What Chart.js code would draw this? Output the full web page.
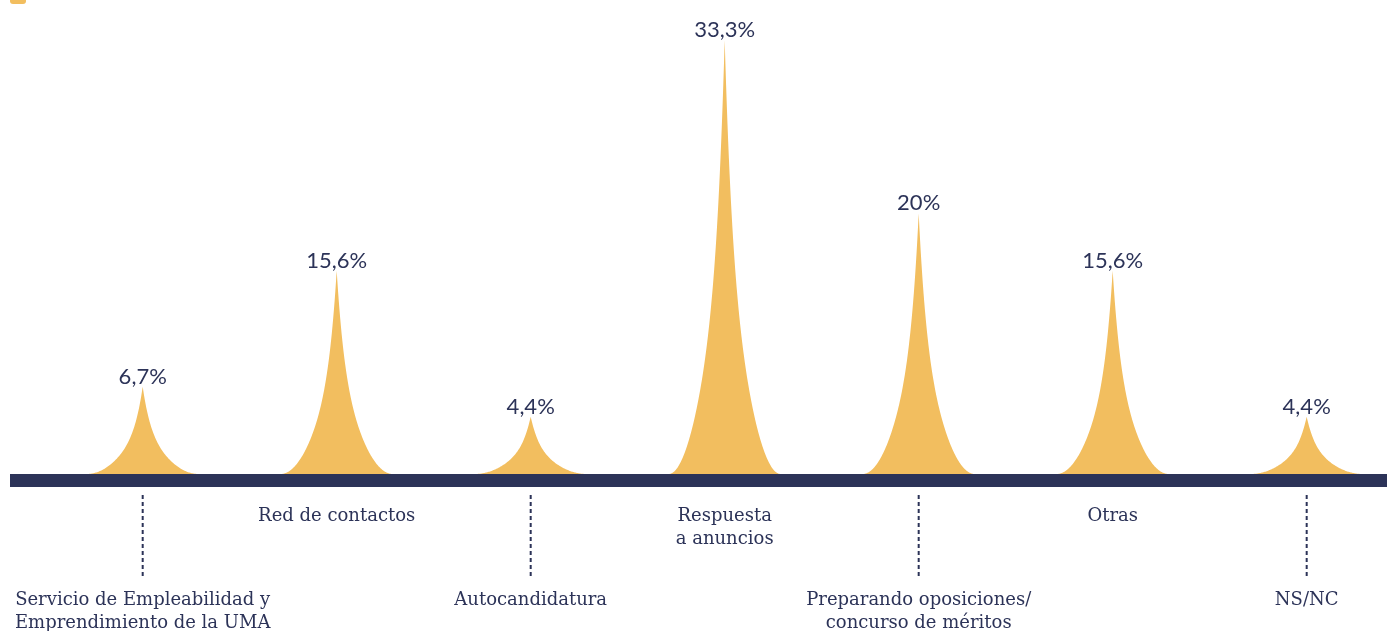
<!DOCTYPE html>
<html lang="es">
<head>
<meta charset="UTF-8">
<title>Vía de acceso al empleo</title>
<script src="https://cdn.jsdelivr.net/npm/chart.js@4.4.0/dist/chart.umd.min.js"></script>
<style>
  html, body { margin: 0; padding: 0; background: #fff; }
  .chart-box { position: relative; width: 1387px; height: 631px; }
</style>
</head>
<body>
<div class="chart-box"><canvas id="spikeChart" width="1387" height="631"></canvas></div>
<script>
// data
const categories = [
  ['Servicio de Empleabilidad y', 'Emprendimiento de la UMA'],
  ['Red de contactos'],
  ['Autocandidatura'],
  ['Respuesta', 'a anuncios'],
  ['Preparando oposiciones/', 'concurso de méritos'],
  ['Otras'],
  ['NS/NC']
];
const percentages = [6.7, 15.6, 4.4, 33.3, 20, 15.6, 4.4];

const NAVY = '#2c3358';
const GOLD = '#f2be5f';

// height of the spike at distance d from its tip (0 = tip, 1 = foot)
function spikeProfile(d) {
  const u = 1 - d;
  return 0.6 * u * u + 0.4 * Math.pow(u, 8);
}

function formatPct(v) {
  return String(v).replace('.', ',') + '%';
}

const spikePlugin = {
  id: 'spikes',
  afterDatasetsDraw(chart) {
    const ctx = chart.ctx;
    const area = chart.chartArea;
    const meta = chart.getDatasetMeta(0);
    const xScale = chart.scales.x;
    const zero = chart.scales.y.getPixelForValue(0);
    const steps = 80;

    ctx.save();

    // little legend square of the (cut off) title
    ctx.fillStyle = GOLD;
    ctx.beginPath();
    ctx.roundRect(10, -12, 16, 16, 3);
    ctx.fill();

    // spikes
    meta.data.forEach((bar) => {
      const { x, y, base, width } = bar.getProps(['x', 'y', 'base', 'width'], true);
      const hw = width / 2;
      const h = base - y;
      ctx.beginPath();
      ctx.moveTo(x - hw, base);
      for (let s = 1; s <= steps; s++) {
        const d = 1 - s / steps;
        ctx.lineTo(x - hw * d, base - h * spikeProfile(d));
      }
      for (let s = 1; s <= steps; s++) {
        const d = s / steps;
        ctx.lineTo(x + hw * d, base - h * spikeProfile(d));
      }
      ctx.closePath();
      ctx.fillStyle = GOLD;
      ctx.fill();
    });

    // baseline bar
    ctx.fillStyle = NAVY;
    ctx.fillRect(area.left, zero, area.right - area.left, 13);

    // value labels
    ctx.font = '22px Lato, "Open Sans", sans-serif';
    ctx.textAlign = 'center';
    ctx.textBaseline = 'alphabetic';
    meta.data.forEach((bar, i) => {
      ctx.fillText(formatPct(percentages[i]), bar.x, bar.y - 3);
    });

    // category labels, alternating above/below with dotted leaders
    ctx.font = '18px "DejaVu Serif", serif';
    categories.forEach((lines, i) => {
      const cx = xScale.getPixelForValue(i);
      let first;
      if (i % 2 === 1) {
        first = zero + 47;
      } else {
        first = zero + 131;
        ctx.strokeStyle = NAVY;
        ctx.lineWidth = 2;
        ctx.setLineDash([4, 3]);
        ctx.beginPath();
        ctx.moveTo(cx, zero + 21);
        ctx.lineTo(cx, zero + 105);
        ctx.stroke();
        ctx.setLineDash([]);
      }
      lines.forEach((line, k) => {
        ctx.fillText(line, cx, first + k * 23);
      });
    });

    ctx.restore();
  }
};

new Chart(document.getElementById('spikeChart'), {
  type: 'bar',
  data: {
    datasets: [{
      data: percentages.map((v, i) => ({ x: i, y: v })),
      backgroundColor: 'rgba(0,0,0,0)',
      barThickness: 112
    }]
  },
  options: {
    responsive: false,
    devicePixelRatio: 1,
    animation: false,
    layout: { padding: { left: 10, right: 0, top: 5, bottom: 157 } },
    scales: {
      x: { type: 'linear', min: -0.684, max: 6.414, offset: false, display: false },
      y: { min: 0, max: 36, display: false }
    },
    plugins: {
      legend: { display: false },
      tooltip: { enabled: false }
    }
  },
  plugins: [spikePlugin]
});
</script>
</body>
</html>
